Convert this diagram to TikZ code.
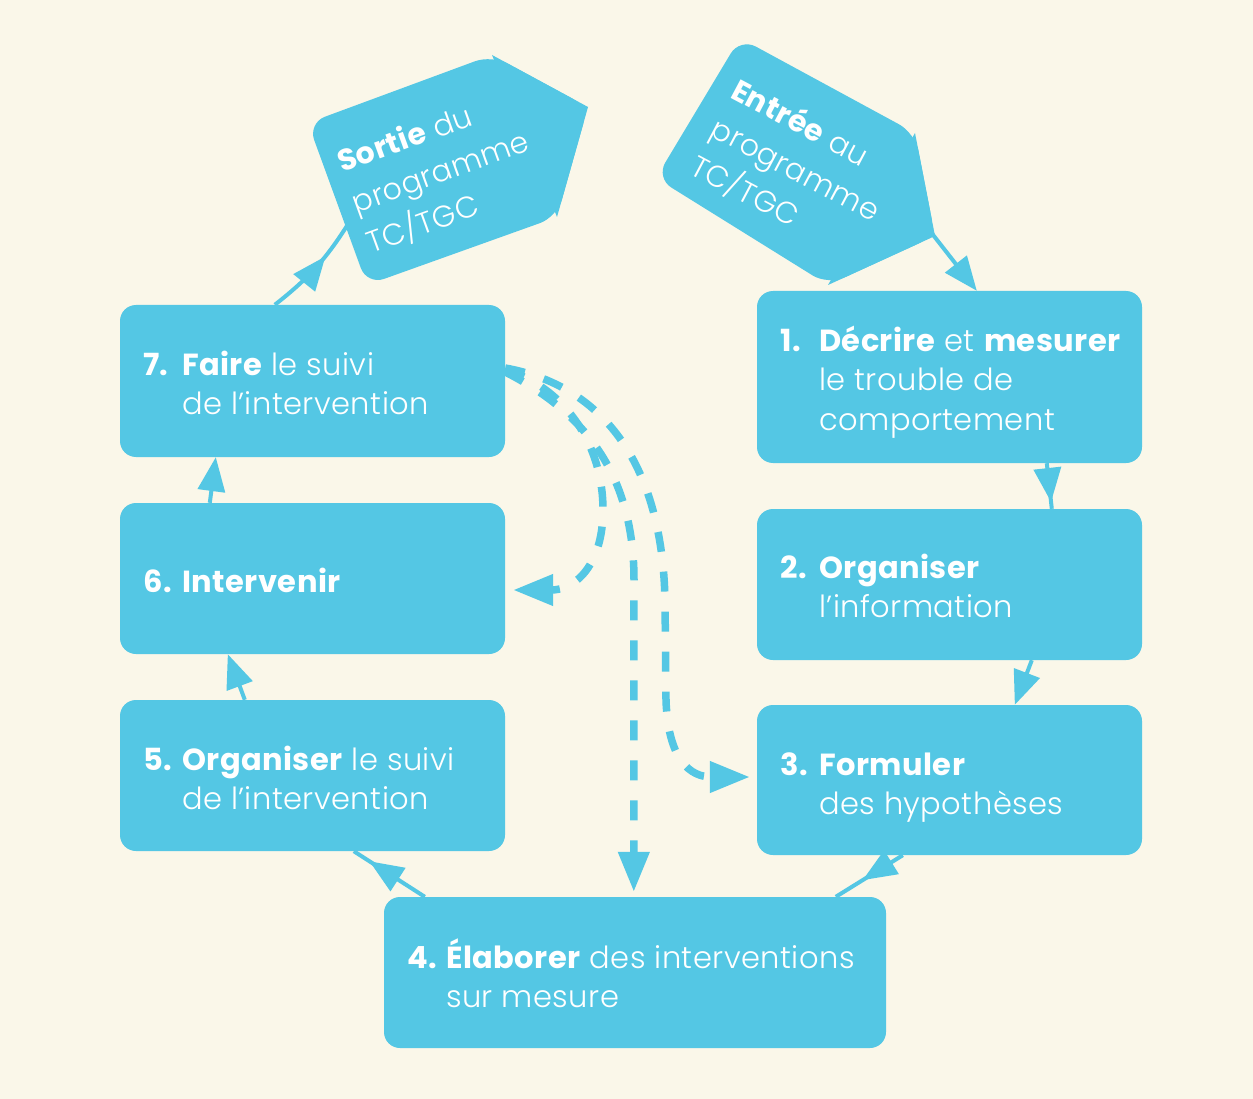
\documentclass[tikz,border=0pt]{standalone}
\usepackage{fontspec}
\setmainfont{Poppins}[UprightFont={Poppins Light},BoldFont={Poppins Bold},LetterSpace=1.5]
\usetikzlibrary{arrows.meta,calc,decorations.markings}
\definecolor{cyanc}{RGB}{84,199,228}
\definecolor{creamc}{RGB}{250,247,233}
\newcommand\numbox[1]{\makebox[39pt][l]{\bfseries #1}}
\newcommand\indentline{\hspace*{39pt}}
\begin{document}
\begin{tikzpicture}[x=1pt,y=-1pt,
  stepbox/.style={fill=cyanc, rounded corners=16pt, inner sep=0pt},
  lbl/.style={anchor=base west, inner sep=0pt, text=white, font=\fontsize{30.5}{39}\selectfont},
  taglbl/.style={anchor=base west, inner sep=0pt, text=white, font=\fontsize{30}{43}\selectfont},
  conn/.style={line width=4pt, draw=cyanc, color=cyanc},
  tipend/.style={-{Triangle[length=34pt,width=27pt]}},
  midarrow/.style={postaction={decorate,decoration={markings,mark=at position #1 with {\arrow{Triangle[length=34pt,width=27pt]}}}}},
  dashconn/.style={line width=7.5pt, draw=cyanc, color=cyanc, dash pattern=on 20pt off 20pt, -{Triangle[length=40pt,width=30pt]}}
]
\useasboundingbox (0,0) rectangle (1253,1099);
\fill[creamc] (0,0) rectangle (1253,1099);

% tags
\coordinate (sTL) at (308,123);
\coordinate (sT) at (492,55);
\coordinate (sP) at (588,107);
\coordinate (sB) at (557,217);
\coordinate (sBL) at (367,285);
\fill[cyanc, rounded corners=18pt] (sTL) -- (sT) -- (sP) -- (sB) -- (sBL) -- cycle;
\fill[cyanc] (sT) -- (sP) -- (sB) -- cycle;
\coordinate (tagSin) at (350,221);

\coordinate (eTL) at (740,38);
\coordinate (eS) at (915,133);
\coordinate (eP) at (935,236);
\coordinate (eB) at (828,285);
\coordinate (eL) at (656,178);
\fill[cyanc, rounded corners=18pt] (eTL) -- (eS) -- (eP) -- (eB) -- (eL) -- cycle;
\fill[cyanc] (eS) -- (eP) -- (eB) -- cycle;
\coordinate (tagEout) at (930,231);

\node[taglbl, rotate=20] (sortietext) at (342,173) {\begin{tabular}[t]{@{}l@{}}\textbf{Sortie} du\\programme\\TC/TGC\end{tabular}};
\node[taglbl, rotate=-28] (entreetext) at (729,97) {\begin{tabular}[t]{@{}l@{}}\textbf{Entrée} au\\programme\\TC/TGC\end{tabular}};

% boxes
\node[stepbox, minimum width=385pt, minimum height=152pt] (b7) at (312.5,381) {};
\node[stepbox, minimum width=385pt, minimum height=151pt] (b6) at (312.5,578.5) {};
\node[stepbox, minimum width=385pt, minimum height=151pt] (b5) at (312.5,775.5) {};
\node[stepbox, minimum width=502pt, minimum height=151pt] (b4) at (635,972.5) {};
\node[stepbox, minimum width=385pt, minimum height=150pt] (b3) at (949.5,780) {};
\node[stepbox, minimum width=385pt, minimum height=151pt] (b2) at (949.5,584.5) {};
\node[stepbox, minimum width=385pt, minimum height=172pt] (b1) at (949.5,377) {};

% labels
\node[lbl] (t1) at (780,352) {\begin{tabular}[t]{@{}l@{}}\numbox{1.}\textbf{Décrire} et \textbf{mesurer}\\\indentline le trouble de\\\indentline comportement\end{tabular}};
\node[lbl] (t2) at (780,578) {\begin{tabular}[t]{@{}l@{}}\numbox{2.}\textbf{Organiser}\\\indentline l’information\end{tabular}};
\node[lbl] (t3) at (780,775) {\begin{tabular}[t]{@{}l@{}}\numbox{3.}\textbf{Formuler}\\\indentline des hypothèses\end{tabular}};
\node[lbl] (t4) at (407,968) {\begin{tabular}[t]{@{}l@{}}\numbox{4.}\textbf{Élaborer} des interventions\\\indentline sur mesure\end{tabular}};
\node[lbl] (t5) at (143,770) {\begin{tabular}[t]{@{}l@{}}\numbox{5.}\textbf{Organiser} le suivi\\\indentline de l’intervention\end{tabular}};
\node[lbl] (t6) at (143,592) {\begin{tabular}[t]{@{}l@{}}\numbox{6.}\textbf{Intervenir}\end{tabular}};
\node[lbl] (t7) at (143,375) {\begin{tabular}[t]{@{}l@{}}\numbox{7.}\textbf{Faire} le suivi\\\indentline de l’intervention\end{tabular}};

% solid connectors
\draw[conn, tipend] (tagEout) -- ($(b1.north west)+(220,0)$);
\draw[conn, midarrow=0.85] ($(b1.south west)+(290,0)$) -- ($(b2.north west)+(295,0)$);
\draw[conn, tipend] ($(b2.south west)+(275,0)$) -- ($(b3.north west)+(258,0)$);
\draw[conn, midarrow=0.6] ($(b3.south west)+(146,0)$) -- ($(b4.north west)+(452,0)$);
\draw[conn, midarrow=0.78] ($(b4.north west)+(41,0)$) -- ($(b5.south west)+(234,0)$);
\draw[conn, tipend] ($(b5.north west)+(125,0)$) -- ($(b6.south west)+(108,0)$);
\draw[conn, tipend] ($(b6.north west)+(90,0)$) -- ($(b7.south west)+(96,0)$);
\draw[conn, midarrow=0.62] ($(b7.north west)+(155,0)$) to[bend right=10] (tagSin);

% dashed connectors
\draw[dashconn] ($(b7.east)+(0,-11)$) .. controls (560,385) and (603,440) .. (603,510)
  .. controls (603,565) and (575,590) .. ($(b6.east)+(8,11.5)$);
\draw[dashconn] ($(b7.east)+(0,-9)$) .. controls (580,410) and (634,470) .. (634,580)
  -- ($(b4.north west)+(250,-5)$);
\draw[dashconn] ($(b7.east)+(0,-13)$) .. controls (600,385) and (662,460) .. (665,600)
  -- (666,700) .. controls (668,760) and (690,777) .. ($(b3.west)+(-7,-3)$);
\end{tikzpicture}
\end{document}
